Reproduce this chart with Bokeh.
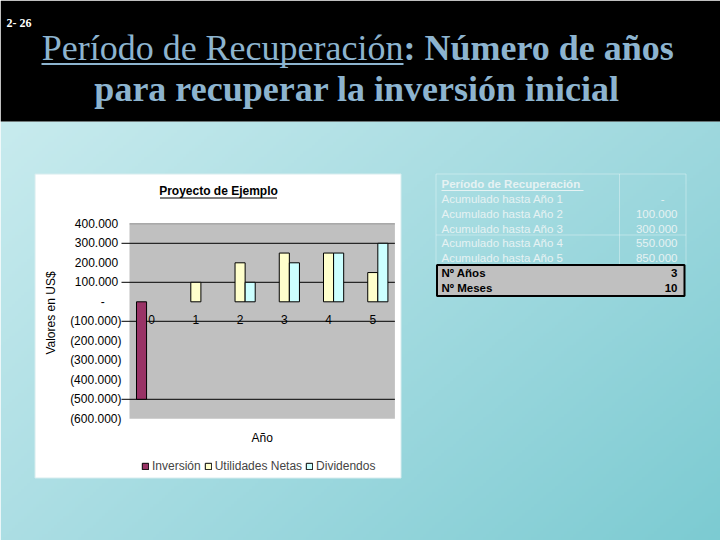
import numpy as np
from bokeh.plotting import figure
from bokeh.models import (Range1d, LinearAxis, FixedTicker, CustomJSTickFormatter,
                          Legend, LegendItem)
from bokeh.core.properties import value
from bokeh.embed import file_html
from bokeh.resources import INLINE


# chart data: Proyecto de Ejemplo
years = [0, 1, 2, 3, 4, 5]
inversion = [-500000, 0, 0, 0, 0, 0]
utilidades = [0, 100000, 200000, 250000, 250000, 150000]
dividendos = [0, 0, 100000, 200000, 250000, 300000]
y_ticks = [400000, 300000, 200000, 100000, 0, -100000, -200000,
           -300000, -400000, -500000, -600000]
grid_values = [300000, 100000, -100000, -500000]

# table data: periodo de recuperacion
tabla_titulo = "Período de Recuperación"
tabla_labels = ["Acumulado hasta Año 1", "Acumulado hasta Año 2", "Acumulado hasta Año 3",
                "Acumulado hasta Año 4", "Acumulado hasta Año 5"]
tabla_acumulado = [0, 100000, 300000, 550000, 850000]
resumen_labels = ["Nº Años", "Nº Meses"]
resumen_values = [3, 10]

W, H = 720, 540

#page = one figure, data coords = pixel coords of the slide
p = figure(width=W, height=H, x_range=Range1d(0, W), y_range=Range1d(H, 0),
           x_axis_type=None, y_axis_type=None, toolbar_location=None, tools="",
           output_backend="svg", min_border=0, outline_line_color=None,
           background_fill_color="white", border_fill_color="white")

#slide background gradient
rows, cols = 140, 240
gy, gx = np.mgrid[0:rows, 0:cols]
u = (gx + 0.5) / cols
v = (gy + 0.5) / rows
tl, tr = np.array([200, 235, 238]), np.array([158, 216, 222])
bl, br = np.array([172, 222, 228]), np.array([124, 203, 210])
col = (tl * ((1 - u) * (1 - v))[..., None] + tr * (u * (1 - v))[..., None]
       + bl * ((1 - u) * v)[..., None] + br * (u * v)[..., None])
img = np.zeros((rows, cols), dtype=np.uint32)
view = img.view(dtype=np.uint8).reshape((rows, cols, 4))
view[:, :, :3] = col.astype(np.uint8)
view[:, :, 3] = 255
p.image_rgba(image=[img], x=0, y=121, dw=W, dh=H - 121)

#title band
p.quad(left=0, right=W, top=0, bottom=121, fill_color="black", line_color=None)
p.text(x=[6], y=[22], text=["2- 26"], text_color="white", text_font=value("Liberation Sans Narrow"),
       text_font_style="bold", text_font_size="12px", text_baseline="middle")
title_color = "#8db4cf"
p.text(x=[403], y=[47.8], text=["Período de Recuperación"], text_color=title_color,
       text_font=value("Liberation Serif"), text_font_size="36px", text_align="right",
       text_baseline="middle")
p.segment(x0=[41], x1=[403], y0=[63.5], y1=[63.5], line_color=title_color, line_width=2)
p.text(x=[403], y=[47.8], text=[": Número de años"], text_color=title_color,
       text_font=value("Liberation Serif"), text_font_style="bold", text_font_size="36px",
       text_align="left", text_baseline="middle")
p.text(x=[356.5], y=[88.8], text=["para recuperar la inversión inicial"], text_color=title_color,
       text_font=value("Liberation Serif"), text_font_style="bold", text_font_size="36px",
       text_align="center", text_baseline="middle")

#chart area
p.quad(left=34.5, right=400.5, top=173.5, bottom=477.5, fill_color="white",
       line_color="#d6ecee", line_width=1)

plot_l, plot_r, plot_t, plot_b = 129, 394.4, 223.3, 418.3
kx = (plot_r - plot_l) / len(years)
ky = (plot_b - plot_t) / (y_ticks[0] - y_ticks[-1])
p.extra_x_ranges = {"cx": Range1d(-0.5 + (0 - plot_l) / kx, -0.5 + (W - plot_l) / kx)}
p.extra_y_ranges = {"cy": Range1d(y_ticks[0] - (H - plot_t) / ky, y_ticks[0] - (0 - plot_t) / ky)}
zero_px = plot_t + y_ticks[0] * ky

p.quad(left=-0.5, right=len(years) - 0.5, top=y_ticks[0], bottom=y_ticks[-1],
       fill_color="#c0c0c0", line_color=None, x_range_name="cx", y_range_name="cy")
p.segment(x0=[-0.5], x1=[len(years) - 0.5], y0=[y_ticks[0]], y1=[y_ticks[0]],
          line_color="#8c8c8c", line_width=1, x_range_name="cx", y_range_name="cy")
p.segment(x0=[-0.5 - 8 / kx] * len(grid_values), x1=[len(years) - 0.5] * len(grid_values),
          y0=grid_values, y1=grid_values, line_color="black", line_width=1,
          x_range_name="cx", y_range_name="cy")

bw = 0.228
series = [(inversion, -bw, "#993366", "Inversión"),
          (utilidades, 0, "#ffffcc", "Utilidades Netas"),
          (dividendos, bw, "#ccffff", "Dividendos")]
items = []
for vals, off, color, name in series:
    xs = [yr + off for yr, val in zip(years, vals) if val != 0]
    tops = [val for val in vals if val != 0]
    r = p.vbar(x=xs, top=tops, bottom=0, width=bw, fill_color=color, line_color="black",
               line_width=1, x_range_name="cx", y_range_name="cy")
    items.append(LegendItem(label=name, renderers=[r]))

fmt = CustomJSTickFormatter(code=r"""
const s = Math.abs(tick).toFixed(0).replace(/\B(?=(\d{3})+(?!\d))/g, ".");
if (tick == 0) return "-\u00a0\u00a0\u00a0\u00a0\u00a0";
return tick < 0 ? "(" + s + ")" : s + "\u00a0";
""")
yax = LinearAxis(y_range_name="cy", ticker=FixedTicker(ticks=y_ticks), formatter=fmt,
                 fixed_location=plot_l)
xax = LinearAxis(x_range_name="cx", ticker=FixedTicker(ticks=years), fixed_location=zero_px)
for ax, standoff in ((yax, 8), (xax, 13)):
    ax.axis_line_color = None
    ax.major_tick_line_color = None
    ax.minor_tick_line_color = None
    ax.major_tick_out = 0
    ax.major_tick_in = 0
    ax.minor_tick_out = 0
    ax.major_label_standoff = standoff
    ax.major_label_text_font = "Liberation Sans"
    ax.major_label_text_font_size = "12px"
    ax.major_label_text_color = "black"
p.add_layout(yax, "left")
p.add_layout(xax, "below")

p.text(x=[218], y=[190.7], text=["Proyecto de Ejemplo"], text_font=value("Liberation Sans"),
       text_font_style="bold", text_font_size="12px", text_align="center", text_baseline="middle")
p.segment(x0=[159.5], x1=[276.5], y0=[197.5], y1=[197.5], line_color="black", line_width=1)
p.text(x=[(plot_l + plot_r) / 2], y=[437.7], text=["Año"], text_font=value("Liberation Sans"),
       text_font_size="12px", text_align="center", text_baseline="middle")
p.text(x=[50.7], y=[312.5], text=["Valores en US$"], text_font=value("Liberation Sans"),
       text_font_size="12px", text_align="center", text_baseline="middle", angle=np.pi / 2)

legend = Legend(items=items, orientation="horizontal", location=(141, 67),
                glyph_width=8, glyph_height=8, label_standoff=3, spacing=3,
                padding=0, margin=0, label_height=12, label_width=10,
                label_text_font="Liberation Sans", label_text_font_size="12px",
                border_line_color=None, background_fill_alpha=0)
p.add_layout(legend)

#recovery table
pale = "#e6f2f3"
row_y = [183.3 + 14.9 * i for i in range(1 + len(tabla_labels) + len(resumen_labels))]
p.segment(x0=[435.5, 435.5, 619, 435.5, 685.5], x1=[685.5, 685.5, 619, 435.5, 685.5],
          y0=[173.5, 234.5, 173.5, 173.5, 173.5], y1=[173.5, 234.5, 264, 264, 264],
          line_color="white", line_alpha=0.35, line_width=1)
p.quad(left=[436.5], right=[684], top=[264.5], bottom=[295.5], fill_color="#c0c0c0",
       line_color="black", line_width=2)
p.text(x=[441], y=[row_y[0]], text=[tabla_titulo], text_color=pale,
       text_font=value("Liberation Sans"), text_font_style="bold", text_font_size="11.5px",
       text_baseline="middle")
p.segment(x0=[441], x1=[583], y0=[190], y1=[190], line_color=pale, line_width=1)
acum_txt = ["-" if a == 0 else f"{a:,}".replace(",", ".") for a in tabla_acumulado]
p.text(x=[441] * len(tabla_labels), y=row_y[1:1 + len(tabla_labels)], text=tabla_labels,
       text_color=pale, text_font=value("Liberation Sans"), text_font_size="11.5px",
       text_baseline="middle")
p.text(x=[677 if t != "-" else 664 for t in acum_txt], y=row_y[1:1 + len(tabla_labels)],
       text=acum_txt, text_color=pale, text_font=value("Liberation Sans"),
       text_font_size="11.5px", text_align="right", text_baseline="middle")
p.text(x=[441] * len(resumen_labels), y=row_y[1 + len(tabla_labels):], text=resumen_labels,
       text_color="black", text_font=value("Liberation Sans"), text_font_style="bold",
       text_font_size="11.5px", text_baseline="middle")
p.text(x=[677] * len(resumen_values), y=row_y[1 + len(tabla_labels):],
       text=[str(r) for r in resumen_values], text_color="black",
       text_font=value("Liberation Sans"), text_font_style="bold", text_font_size="11.5px",
       text_align="right", text_baseline="middle")

open("out.html", "w").write(file_html(p, INLINE))
